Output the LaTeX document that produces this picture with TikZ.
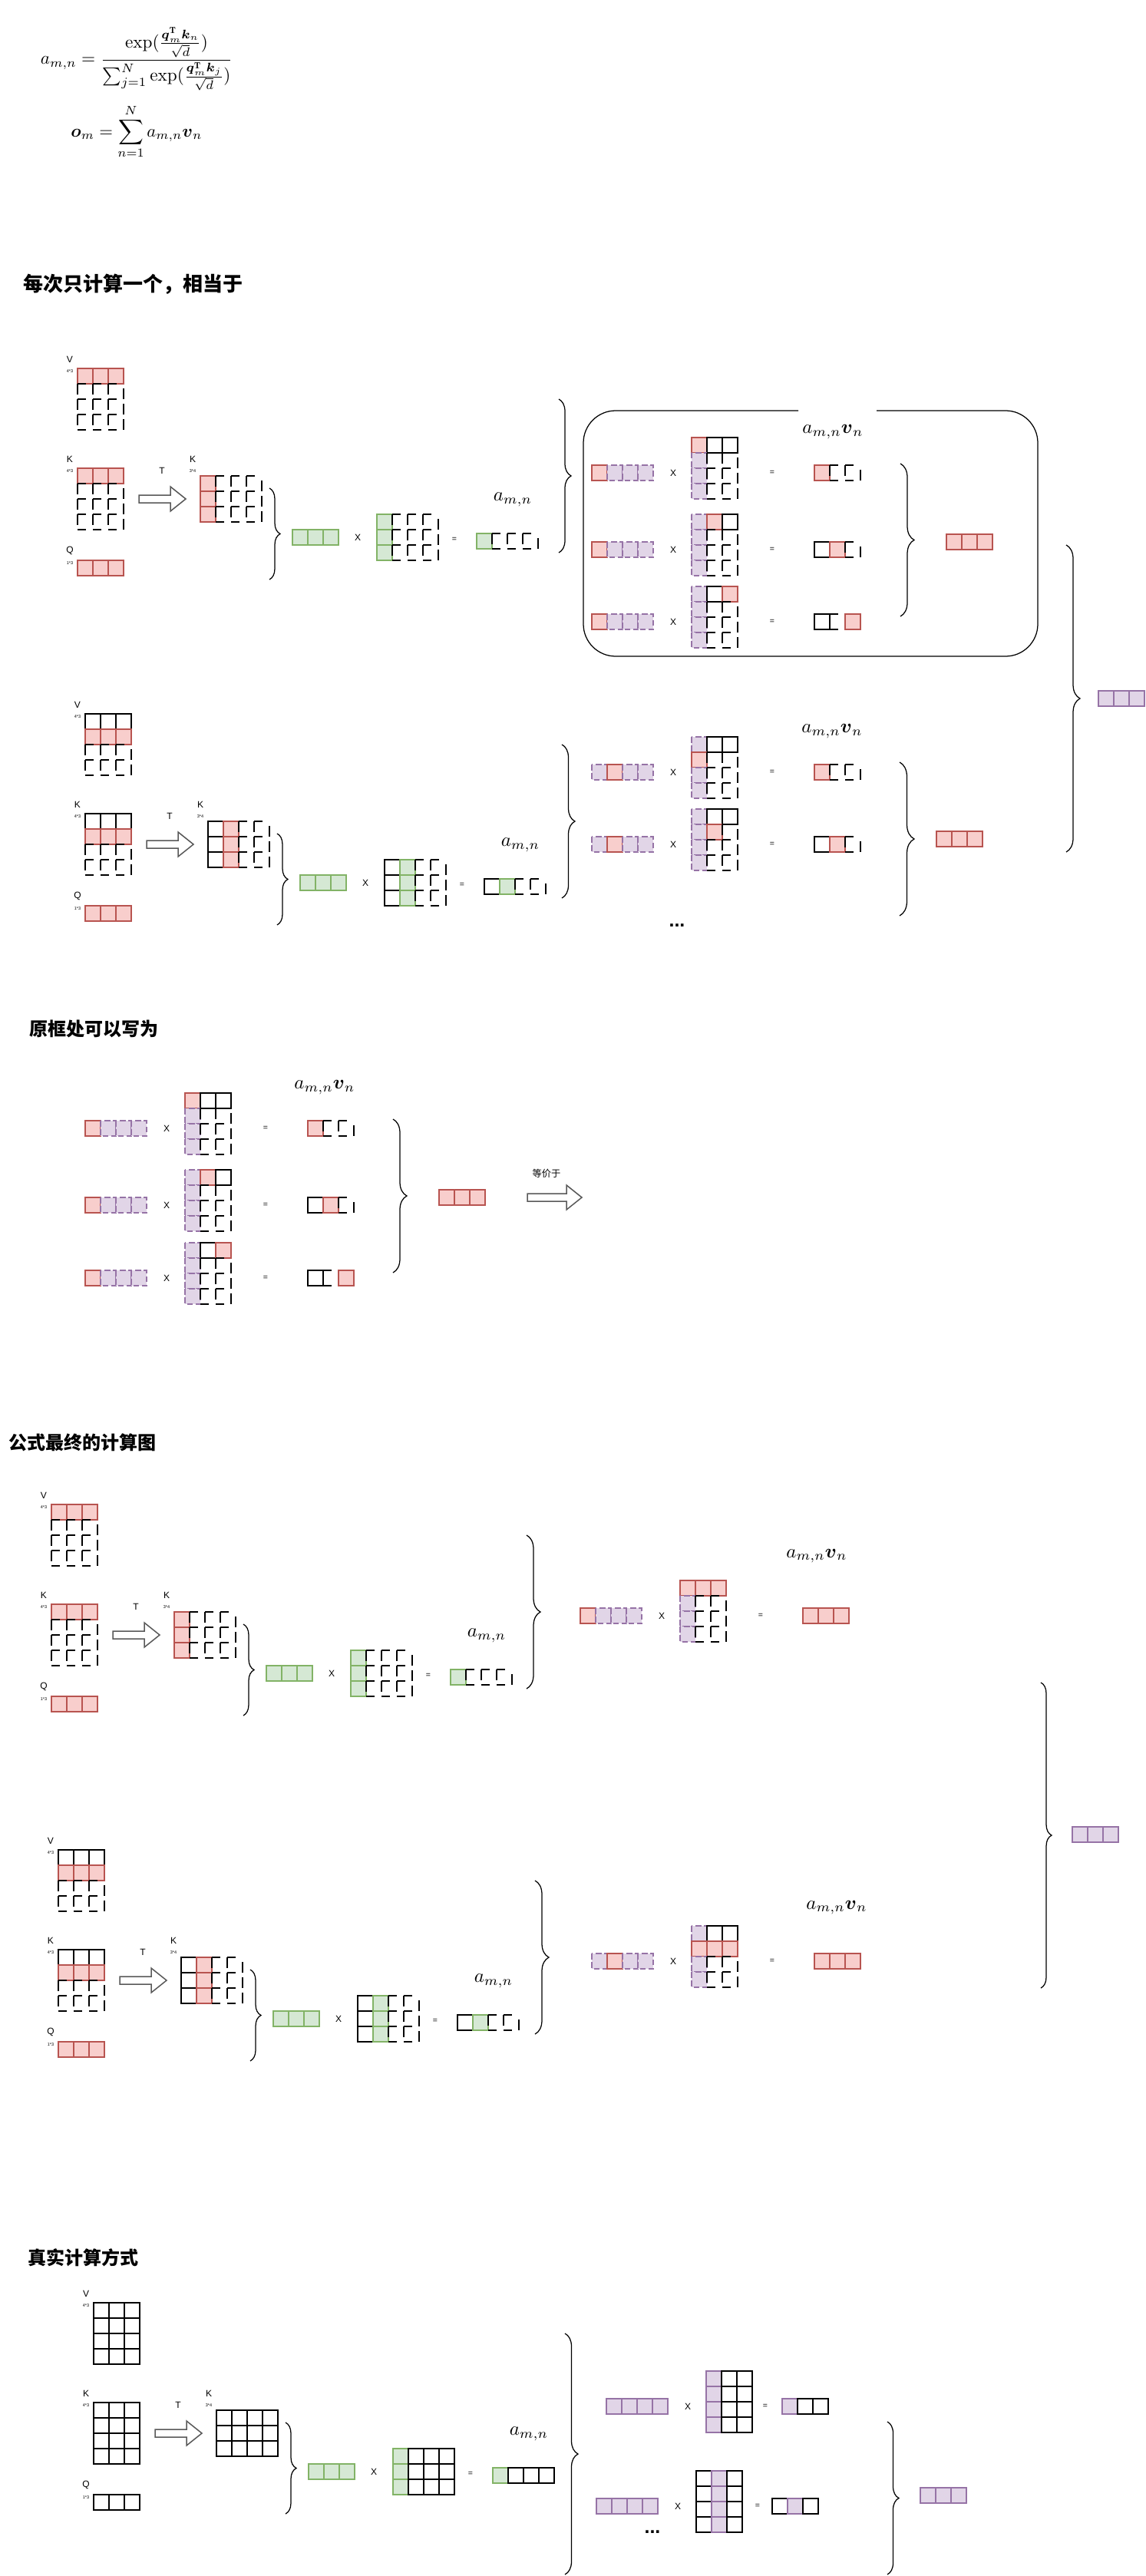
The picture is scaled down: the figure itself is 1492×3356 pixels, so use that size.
\documentclass[tikz,border=0pt]{standalone}
\usepackage{fontspec}
\usepackage{amsmath}
\usetikzlibrary{decorations.pathreplacing}
\newfontfamily\sansf{Liberation Sans}
\newfontfamily\cjk{Noto Sans CJK SC}
\definecolor{redF}{HTML}{F8CECC}\definecolor{redD}{HTML}{B85450}
\definecolor{grnF}{HTML}{D5E8D4}\definecolor{grnD}{HTML}{82B366}
\definecolor{purF}{HTML}{E1D5E7}\definecolor{purD}{HTML}{9673A6}
% cell types
\newcommand\mcR[4]{\filldraw[cR] (#1,#2) rectangle ++(#3,#4);}
\newcommand\mcG[4]{\filldraw[cG] (#1,#2) rectangle ++(#3,#4);}
\newcommand\mcP[4]{\filldraw[cP] (#1,#2) rectangle ++(#3,#4);}
\newcommand\mcS[4]{\filldraw[cS] (#1,#2) rectangle ++(#3,#4);}
\newcommand\mcW[4]{\draw[cW] (#1,#2) rectangle ++(#3,#4);}
\newcommand\mcD[4]{\draw[cD] (#1,#2) -- ++({0.55*#3},0) (#1,#2) -- ++(0,{0.7*#4});}
\newcommand\mcDr[4]{\mcD{#1}{#2}{#3}{#4}\draw[cD] ({#1+#3},{#2+0.3*#4}) -- ++(0,{0.7*#4});}
\newcommand\mcDb[4]{\mcD{#1}{#2}{#3}{#4}\draw[cD] (#1,{#2+#4}) -- ++({0.55*#3},0);}
\newcommand\mcDrb[4]{\mcDr{#1}{#2}{#3}{#4}\draw[cD] (#1,{#2+#4}) -- ++({0.55*#3},0);}
\newcommand\drawmat[5]{%
  \foreach \rw [count=\jj from 0] in {#5}{%
    \foreach \ct [count=\ii from 0] in \rw {%
      \pgfmathsetmacro\xx{#1+\ii*#3}%
      \pgfmathsetmacro\yy{#2+\jj*#4}%
      \csname mc\ct\endcsname{\xx}{\yy}{#3}{#4}%
    }}}
\newcommand\mybrace[5]{\coordinate (#1a) at (#2,#3); \coordinate (#1b) at (#2,#4);
  \draw[brc,decoration={brace,amplitude=#5}] (#1a) -- (#1b);}
\newcommand\blockarrow[7]{\coordinate (#1) at (#2,#5);
  \draw[barr] (#2,{#5-#7}) -- (#3,{#5-#7}) -- (#3,{#5-#6}) -- (#4,#5) -- (#3,{#5+#6}) -- (#3,{#5+#7}) -- (#2,{#5+#7}) -- cycle;}
\newcommand\qkvblock[9]{%
  \begin{scope}[shift={(#1,#2)}]
    \node[lbl] (#9Vl) at (-10,-12) {V};
    \node[tiny] (#9Vs) at (-10,4) {4*3};
    \drawmat{0}{0}{20}{20}{#3}
    \node[lbl] (#9Kl) at (-10,118) {K};
    \node[tiny] (#9Ks) at (-10,134) {4*3};
    \drawmat{0}{130}{20}{20}{#3}
    \node[lbl] (#9Ql) at (-10,237) {Q};
    \node[tiny] (#9Qs) at (-10,254) {1*3};
    \drawmat{0}{250}{20}{20}{#4}
    \blockarrow{#9arr}{80}{121}{141}{170}{16}{5}
    \node[lbl] (#9T) at (110,133) {T};
    \node[lbl] (#9KTl) at (150,118) {K};
    \node[tiny] (#9KTs) at (150,134) {3*4};
    \drawmat{160}{140}{20}{20}{#5}
    \mybrace{#9sb}{250}{156}{275}{5.6pt}
    \drawmat{280}{210}{20}{20}{#6}
    \node[lbl] (#9X) at (365,220) {X};
    \drawmat{390}{190}{20}{20}{#7}
    \node[eq] (#9eq) at (491,223) {=};
    \node[mth] (#9a) at (567,171) {$a_{m,n}$};
    \drawmat{520}{215}{20}{20}{#8}
  \end{scope}}
\newcommand\prodrowx[8]{%
  \begin{scope}[shift={(#2,#3)}]
    \drawmat{0}{0}{20}{20}{{#4}}
    \node[lbl] (#1X) at (106,10) {X};
    \drawmat{130}{-36}{20}{20}{#5}
    \node[eq] (#1E) at (#7,10) {=};
    \drawmat{#8}{0}{20}{20}{{#6}}
  \end{scope}}
\newcommand\prodrow[6]{\prodrowx{#1}{#2}{#3}{#4}{#5}{#6}{235}{290}}
\begin{document}
\begin{tikzpicture}[x=0.4pt,y=-0.4pt,
  cR/.style={fill=redF,draw=redD,line width=0.5pt},
  cG/.style={fill=grnF,draw=grnD,line width=0.5pt},
  cP/.style={fill=purF,draw=purD,line width=0.5pt,dash pattern=on 3pt off 1.5pt},
  cS/.style={fill=purF,draw=purD,line width=0.5pt},
  cW/.style={draw=black,line width=0.5pt},
  cD/.style={draw=black,line width=0.5pt},
  brc/.style={decorate,line width=0.5pt},
  barr/.style={draw=black!65,fill=white,line width=0.6pt},
  lbl/.style={font=\sansf\fontsize{4.8}{5.5}\selectfont,inner sep=0pt},
  tiny/.style={font=\sansf\fontsize{2.2}{2.6}\selectfont,inner sep=0pt},
  eq/.style={font=\sansf\fontsize{4.2}{5}\selectfont,inner sep=0pt},
  mth/.style={inner sep=0pt},
  ttl/.style={font=\cjk\bfseries\fontsize{9.6}{11}\selectfont,inner sep=0pt,anchor=west},
  dots/.style={font=\sansf\bfseries\fontsize{10}{11}\selectfont,inner sep=0pt}]
\fill[white] (0,0) rectangle (1492,3356);
\useasboundingbox (0,0) rectangle (1492,3356);

% formula
\node[inner sep=0pt] (f1) at (178,77) {\scalebox{0.93}{$\displaystyle a_{m,n} = \frac{\exp(\frac{\boldsymbol{q}_m^{\mathbf{T}}\boldsymbol{k}_n}{\sqrt{d}})}{\sum_{j=1}^{N}\exp(\frac{\boldsymbol{q}_m^{\mathbf{T}}\boldsymbol{k}_j}{\sqrt{d}})}$}};
\node[inner sep=0pt] (f2) at (178,172) {\scalebox{0.91}{$\displaystyle \boldsymbol{o}_m = \sum_{n=1}^{N} a_{m,n}\boldsymbol{v}_n$}};

% ===== section 1
\node[ttl,font=\cjk\bfseries\fontsize{10.4}{12}\selectfont] (t1) at (30,370) {每次只计算一个，相当于};
\qkvblock{101}{480}{{R,R,R},{D,D,Dr},{D,D,Dr},{Db,Db,Drb}}{{R,R,R}}{{R,D,D,Dr},{R,D,D,Dr},{R,Db,Db,Drb}}{{G,G,G}}{{G,D,D,Dr},{G,D,D,Dr},{G,Db,Db,Drb}}{{G,Db,Db,Drb}}{a}
\mybrace{ab}{728}{520}{720}{6.4pt}
% rounded box
\draw[line width=0.5pt,rounded corners=16.8pt] (1142,535) -- (1352,535) -- (1352,855) -- (760,855) -- (760,535) -- (1040,535);
\node[mth] (lab1) at (1085,563) {$a_{m,n}\boldsymbol{v}_n$};
\prodrow{r1}{771}{606}{R,P,P,P}{{R,W,W},{P,D,Dr},{P,D,Dr},{P,Db,Drb}}{R,Db,Drb}
\prodrow{r2}{771}{706}{R,P,P,P}{{P,R,W},{P,D,Dr},{P,D,Dr},{P,Db,Drb}}{W,R,Drb}
\prodrow{r3}{771}{800}{R,P,P,P}{{P,W,R},{P,D,Dr},{P,D,Dr},{P,Db,Drb}}{W,Db,R}
\mybrace{rb}{1173}{604}{803}{7.2pt}
\drawmat{1233}{696}{20}{20}{{R,R,R}}

\qkvblock{111}{930}{{W,W,W},{R,R,R},{D,D,Dr},{Db,Db,Drb}}{{R,R,R}}{{W,R,D,Dr},{W,R,D,Dr},{W,R,Db,Drb}}{{G,G,G}}{{W,G,D,Dr},{W,G,D,Dr},{W,G,Db,Drb}}{{W,G,Db,Drb}}{b}
\mybrace{bb}{732}{970}{1170}{6.8pt}
\node[mth] (lab2) at (1084,953) {$a_{m,n}\boldsymbol{v}_n$};
\prodrow{r4}{771}{996}{P,R,P,P}{{P,W,W},{R,D,Dr},{P,D,Dr},{P,Db,Drb}}{R,Db,Drb}
\prodrow{r5}{771}{1090}{P,R,P,P}{{P,W,W},{P,R,Dr},{P,D,Dr},{P,Db,Drb}}{W,R,Drb}
\node[dots] (dd1) at (882,1206) {...};
\mybrace{r2b}{1172}{993}{1193}{7.6pt}
\drawmat{1220}{1083}{20}{20}{{R,R,R}}
\mybrace{big1}{1389}{710}{1110}{7.2pt}
\drawmat{1431}{900}{20}{20}{{S,S,S}}

% ===== section 2
\node[ttl] (t2) at (38,1340) {原框处可以写为};
\node[mth] (lab3) at (423,1417) {$a_{m,n}\boldsymbol{v}_n$};
\prodrow{s1}{111}{1460}{R,P,P,P}{{R,W,W},{P,D,Dr},{P,D,Dr},{P,Db,Drb}}{R,Db,Drb}
\prodrow{s2}{111}{1560}{R,P,P,P}{{P,R,W},{P,D,Dr},{P,D,Dr},{P,Db,Drb}}{W,R,Drb}
\prodrow{s3}{111}{1655}{R,P,P,P}{{P,W,R},{P,D,Dr},{P,D,Dr},{P,Db,Drb}}{W,Db,R}
\mybrace{sb}{512}{1458}{1658}{7.2pt}
\drawmat{572}{1550}{20}{20}{{R,R,R}}
\node[font=\cjk\fontsize{4.9}{6}\selectfont,inner sep=0pt] (eqv) at (712,1529) {等价于};
\blockarrow{sarr}{687}{738}{758}{1560}{16}{5}

% ===== section 3
\node[ttl] (t3) at (11,1879) {公式最终的计算图};
\qkvblock{67}{1960}{{R,R,R},{D,D,Dr},{D,D,Dr},{Db,Db,Drb}}{{R,R,R}}{{R,D,D,Dr},{R,D,D,Dr},{R,Db,Db,Drb}}{{G,G,G}}{{G,D,D,Dr},{G,D,D,Dr},{G,Db,Db,Drb}}{{G,Db,Db,Drb}}{c}
\mybrace{cb}{686}{2000}{2200}{7.2pt}
\node[mth] (lab4) at (1064,2027) {$a_{m,n}\boldsymbol{v}_n$};
\prodrow{u1}{756}{2095}{R,P,P,P}{{R,R,R},{P,D,Dr},{P,D,Dr},{P,Db,Drb}}{R,R,R}
\qkvblock{76}{2410}{{W,W,W},{R,R,R},{D,D,Dr},{Db,Db,Drb}}{{R,R,R}}{{W,R,D,Dr},{W,R,D,Dr},{W,R,Db,Drb}}{{G,G,G}}{{W,G,D,Dr},{W,G,D,Dr},{W,G,Db,Drb}}{{W,G,Db,Drb}}{d}
\mybrace{db}{697}{2450}{2650}{7.2pt}
\node[mth] (lab5) at (1090,2485) {$a_{m,n}\boldsymbol{v}_n$};
\prodrow{u2}{771}{2545}{P,R,P,P}{{P,W,W},{R,R,R},{P,D,Dr},{P,Db,Drb}}{R,R,R}
\mybrace{big3}{1356}{2192}{2590}{5.6pt}
\drawmat{1397}{2380}{20}{20}{{S,S,S}}

% ===== section 4
\node[ttl] (t4) at (36,2941) {真实计算方式};
\qkvblock{122}{3000}{{W,W,W},{W,W,W},{W,W,W},{W,W,W}}{{W,W,W}}{{W,W,W,W},{W,W,W,W},{W,W,W,W}}{{G,G,G}}{{G,W,W,W},{G,W,W,W},{G,W,W,W}}{{G,W,W,W}}{e}
\mybrace{eb}{736}{3040}{3354}{6.8pt}
\prodrowx{w1}{790}{3125}{S,S,S,S}{{S,W,W},{S,W,W},{S,W,W},{S,W,W}}{S,W,W}{207}{229}
\prodrowx{w2}{777}{3255}{S,S,S,S}{{W,S,W},{W,S,W},{W,S,W},{W,S,W}}{W,S,W}{210}{229}
\node[dots] (dd2) at (850,3299) {...};
\mybrace{wb}{1156}{3155}{3354}{6pt}
\drawmat{1199}{3241}{20}{20}{{S,S,S}}
\end{tikzpicture}
\end{document}
